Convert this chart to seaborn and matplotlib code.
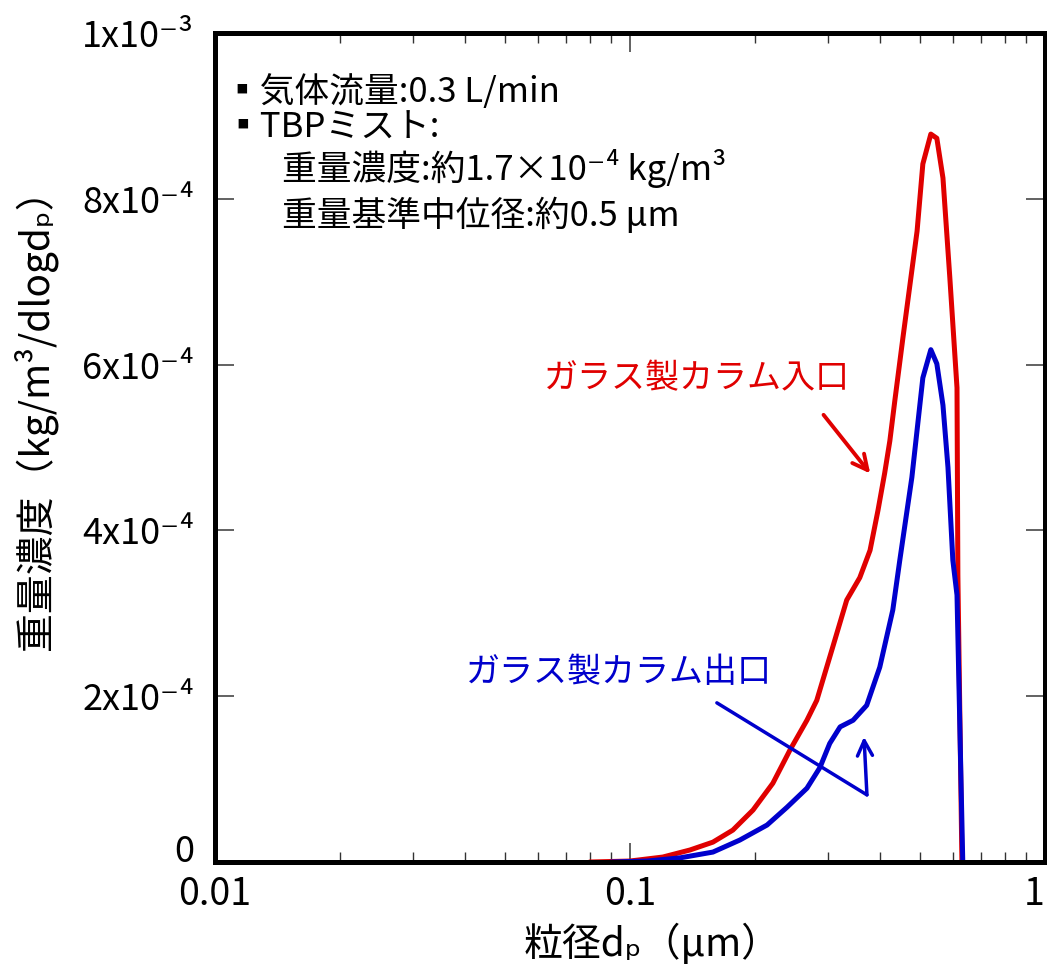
import numpy as np
import pandas as pd
import matplotlib
matplotlib.use("Agg")
import matplotlib.pyplot as plt
import matplotlib.transforms as mtransforms
import seaborn as sns

# Particle diameter (um) and mass concentration (1e-4 kg/m3/dlogdp)
inlet_dp = [0.080, 0.100, 0.120, 0.1395, 0.1585, 0.177, 0.198, 0.221, 0.243, 0.267,
            0.282, 0.308, 0.333, 0.358, 0.379, 0.396, 0.411, 0.423, 0.435, 0.455,
            0.492, 0.508, 0.531, 0.549, 0.568, 0.590, 0.614, 0.617, 0.631]
inlet_mass = [0.0, 0.012, 0.06, 0.145, 0.24, 0.385, 0.627, 0.95, 1.35, 1.71,
              1.95, 2.59, 3.16, 3.43, 3.76, 4.24, 4.69, 5.08, 5.57, 6.33,
              7.61, 8.42, 8.78, 8.73, 8.25, 7.05, 5.72, 3.46, 0.0]

outlet_dp = [0.090, 0.110, 0.132, 0.1585, 0.184, 0.214, 0.239, 0.267, 0.287, 0.303,
             0.321, 0.345, 0.372, 0.400, 0.430, 0.447, 0.478, 0.508, 0.531, 0.549,
             0.568, 0.584, 0.600, 0.614, 0.634]
outlet_mass = [0.0, 0.012, 0.05, 0.12, 0.265, 0.446, 0.66, 0.89, 1.14, 1.43,
               1.63, 1.71, 1.89, 2.35, 3.04, 3.64, 4.64, 5.84, 6.18, 6.01,
               5.51, 4.76, 3.64, 3.22, 0.0]

inlet_name = "ガラス製カラム入口"
outlet_name = "ガラス製カラム出口"
red = "#E00000"
blue = "#0000CC"

ytick_vals = [0, 2e-4, 4e-4, 6e-4, 8e-4, 1e-3]
ytick_labels = ["0", "2x10⁻⁴", "4x10⁻⁴", "6x10⁻⁴", "8x10⁻⁴", "1x10⁻³"]
xtick_vals = [0.01, 0.1, 1]
xtick_labels = ["0.01", "0.1", "1"]

df = pd.concat([
    pd.DataFrame({"dp": inlet_dp, "mass": np.array(inlet_mass) * 1e-4, "loc": inlet_name}),
    pd.DataFrame({"dp": outlet_dp, "mass": np.array(outlet_mass) * 1e-4, "loc": outlet_name}),
], ignore_index=True)

sns.set_theme(style="ticks")
fams = ["Noto Sans CJK JP", "DejaVu Sans"]
plt.rcParams["font.family"] = fams
plt.rcParams["text.color"] = "black"
plt.rcParams["axes.labelcolor"] = "black"

fig = plt.figure(figsize=(10.47, 9.69), dpi=100)
ax = fig.add_axes([0.2053, 0.1104, 0.7927, 0.8556])

sns.lineplot(data=df, x="dp", y="mass", hue="loc", sort=False, estimator=None,
             palette={inlet_name: red, outlet_name: blue}, linewidth=3.6,
             legend=False, ax=ax)

ax.set_xscale("log")
ax.set_xlim(0.01, 1)
ax.set_ylim(0, 1e-3)

ax.set_xticks(xtick_vals)
ax.set_xticklabels(xtick_labels, fontsize=27)
ax.set_yticks(ytick_vals)
ax.set_yticklabels(ytick_labels, fontsize=26)
ax.xaxis.set_minor_locator(matplotlib.ticker.LogLocator(base=10, subs=np.arange(2, 10)))
ax.xaxis.set_minor_formatter(matplotlib.ticker.NullFormatter())

ax.tick_params(axis="both", which="major", direction="in", length=14, width=1.3,
               color="#555555", top=True, right=True, labelcolor="black")
ax.tick_params(axis="x", which="major", pad=9)
ax.tick_params(axis="y", which="major", pad=15)
ax.tick_params(axis="x", which="minor", direction="in", length=7, width=1.0,
               color="#333333", top=True)

ax.get_xticklabels()[-1].set_horizontalalignment("right")
# the "0" label sits on its baseline so it clears the first x label
ax.get_yticklabels()[0].set_verticalalignment("baseline")

for s in ax.spines.values():
    s.set_linewidth(3.6)
    s.set_color("black")
    s.set_visible(True)

ax.set_xlabel("粒径dₚ（μm）", fontsize=28)
ax.set_ylabel("重量濃度（kg/m³/dlogdₚ）", fontsize=28)
ax.xaxis.set_label_coords(0.527, -0.074)
ax.yaxis.set_label_coords(-0.19, 0.545)

# Conditions box
txt_kw = dict(transform=ax.transAxes, fontsize=25, va="center", ha="left", color="black")
ax.text(0.012, 0.928, "▪気体流量:0.3 L/min", **txt_kw)
ax.text(0.012, 0.885, "▪TBPミスト:", **txt_kw)
ax.text(0.081, 0.836, "重量濃度:約1.7×10⁻⁴ kg/m³", **txt_kw)
ax.text(0.081, 0.780, "重量基準中位径:約0.5 μm", **txt_kw)

# Series labels with arrows
ax.text(0.145, 5.83e-4, inlet_name, color=red, fontsize=24.5, ha="center", va="center")
ax.annotate("", xy=(0.383, 4.66e-4), xytext=(0.290, 5.42e-4),
            arrowprops=dict(arrowstyle="->,head_length=0.9,head_width=0.45",
                            color=red, lw=2.8))

ax.text(0.0941, 2.29e-4, outlet_name, color=blue, fontsize=24.5, ha="center", va="center")
ax.plot([0.162, 0.3725], [1.92e-4, 0.81e-4], color=blue, lw=2.5)
ax.annotate("", xy=(0.3665, 1.51e-4), xytext=(0.3725, 0.81e-4),
            arrowprops=dict(arrowstyle="->,head_length=0.9,head_width=0.45",
                            color=blue, lw=2.5, shrinkA=0, shrinkB=0))

fig.savefig("out.png", dpi=100, facecolor="white")
